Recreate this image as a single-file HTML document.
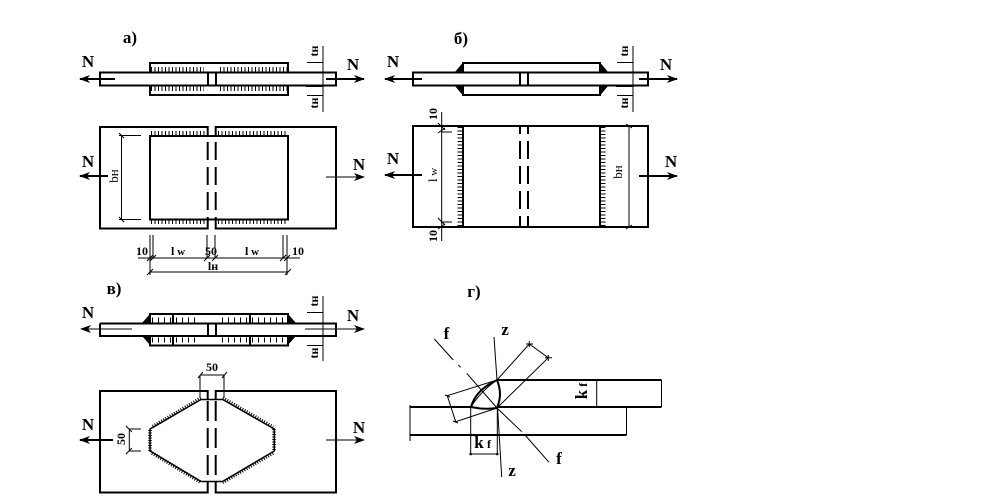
<!DOCTYPE html>
<html><head><meta charset="utf-8"><style>
html,body{margin:0;padding:0;background:#fff;width:997px;height:501px;overflow:hidden}
svg{display:block}
text{font-family:"Liberation Serif",serif;fill:#000}
.n{font-size:17px;font-weight:bold;text-anchor:middle}
.t{font-size:12px;text-anchor:middle;font-weight:bold}
.r{font-size:13px;text-anchor:middle}
.h{font-size:17px;font-weight:bold;text-anchor:middle}
.b{stroke:#000;stroke-width:2;fill:none}
.s{stroke:#000;stroke-width:1;fill:none}
.m{stroke:#000;stroke-width:2;fill:none}
.tk{stroke:#000;stroke-width:5;stroke-dasharray:1 2.5;fill:none}
.d{stroke:#000;stroke-width:2;stroke-dasharray:18 7;fill:none}
</style></head><body>
<svg width="997" height="501" viewBox="0 0 997 501" xmlns="http://www.w3.org/2000/svg">
<defs>
<marker id="a" markerWidth="12" markerHeight="8" refX="10" refY="4" orient="auto-start-reverse" markerUnits="userSpaceOnUse"><path d="M0 0L11 4L0 8L3 4Z" fill="#000"/></marker>
</defs>

<!-- a side -->
<text class="h" x="130" y="43">а)</text>
<text class="n" x="88" y="67">N</text><text class="n" x="353" y="70">N</text>
<path class="b" d="M150 72V63H288V72M150 86V95H288V86"/>
<rect class="b" x="100" y="72.500" width="236" height="13"/>
<path class="b" d="M208 72.500V85.500M216 72.500V85.500"/>
<path class="m" d="M80 79H115" marker-start="url(#a)"/>
<path class="m" d="M326 79H364" marker-end="url(#a)"/>
<path class="tk" d="M151 69.500H204M220 69.500H288M151 88.500H204M220 88.500H288"/>
<path class="s" d="M323 46V112M307 62.500H323M307 95.500H323M307 72.500H323"/>
<path class="b" d="M306 86H323"/>
<text class="t" transform="translate(318,51) rotate(-90)">tн</text>
<text class="t" transform="translate(318,103) rotate(-90)">tн</text>

<!-- a plan -->
<path class="b" d="M207.700 136V127H100V228.500H207.700V219.500M215.700 136V127H336V228.500H215.700V219.500M150 136H288V219.500H150Z"/>
<path class="b" d="M207.700 136V220M215.700 136V220" stroke-dasharray="18 7" style="stroke-dashoffset:-6"/>
<path class="tk" d="M151 133H206M218 133H288M151 222H206M218 222H288" style="stroke-width:4"/>
<path class="s" d="M121.500 135.500V219.500M119 135.500H141M119 219.500H141"/>
<path class="s" d="M119 133L124 138M119 217L124 222"/>
<text class="r" transform="translate(118,176) rotate(-90)">bн</text>
<text class="n" x="88" y="167">N</text><text class="n" x="359" y="170">N</text>
<path class="m" d="M80 176H108" marker-start="url(#a)"/>
<path class="s" d="M326 177H364" marker-end="url(#a)"/>
<path class="s" d="M150 235V275M153 235V258M207 235V258M215 235V258M283 235V258M287 235V275"/>
<path class="s" d="M138 258H300M150 272H288"/>
<path class="s" d="M147 261L153 255M150 261L156 255M204 261L210 255M212 261L218 255M280 261L286 255M284 261L290 255M147 275L153 269M285 275L291 269"/>
<text class="t" x="142" y="255">10</text>
<text class="t" x="178" y="255">l<tspan font-size="11"> w</tspan></text>
<text class="t" x="211" y="255">50</text>
<text class="t" x="252" y="255">l<tspan font-size="11"> w</tspan></text>
<text class="t" x="298" y="255">10</text>
<text class="t" x="213" y="270">lн</text>

<!-- b side -->
<text class="h" x="461" y="44">б)</text>
<text class="n" x="393" y="67">N</text><text class="n" x="666" y="70">N</text>
<path fill="#000" d="M455 72L462.500 63V72ZM455 86L462.500 95V86ZM600.500 63V72H608ZM600.500 86V95L608 86Z"/>
<path class="b" d="M463 72V63H600V72M463 86V95H600V86"/>
<rect class="b" x="413" y="72.500" width="235" height="13"/>
<path class="b" d="M520 72.500V85.500M528 72.500V85.500"/>
<path class="m" d="M385 79H422" marker-start="url(#a)"/>
<path class="m" d="M639 79H677" marker-end="url(#a)"/>
<path class="s" d="M633 46V112M617 62.500H633M617 95.500H633M617 72.500H633"/>
<path class="b" d="M616 86H633"/>
<text class="t" transform="translate(628,51) rotate(-90)">tн</text>
<text class="t" transform="translate(628,103) rotate(-90)">tн</text>

<!-- b plan -->
<rect class="b" x="413" y="126" width="235" height="101"/>
<path class="b" d="M463 126V227M600 126V227"/>
<path class="d" d="M520 126V227M528 126V227" style="stroke-dashoffset:10"/>
<path class="tk" d="M460 127V226M603 127V226"/>
<path class="s" d="M441.700 112V241M441 132H452M441 222H452M629 126V227"/>
<path class="s" d="M438 123L445 130M438 133L445 128M438 218L445 225M438 229L445 224M626 124L632 128M626 229L632 225"/>
<text class="t" transform="translate(437,114) rotate(-90)">10</text>
<text class="t" transform="translate(437,236) rotate(-90)">10</text>
<text class="r" transform="translate(437,175) rotate(-90)">l<tspan font-size="11"> w</tspan></text>
<text class="r" transform="translate(622,172) rotate(-90)">bн</text>
<text class="n" x="393" y="164">N</text><text class="n" x="671" y="167">N</text>
<path class="m" d="M385 175H422" marker-start="url(#a)"/>
<path class="m" d="M639 176H677" marker-end="url(#a)"/>

<!-- v side -->
<text class="h" x="114" y="294">в)</text>
<text class="n" x="88" y="318">N</text><text class="n" x="353" y="321">N</text>
<path fill="#000" d="M142 323L150 314V323ZM142 336L150 345V336ZM288 314V323H296ZM288 336V345L296 336Z"/>
<path class="b" d="M150 323V314H288V323M150 336V345.500H288V336"/>
<path class="b" d="M100 323.500H336V336H100V323.500M208 323.500V336M216 323.500V336M173 314V323M173 336V345.500M250 314V323M250 336V345.500"/>
<path class="s" d="M81 329H132" marker-start="url(#a)"/>
<path class="s" d="M305 329H364" marker-end="url(#a)"/>
<path class="tk" d="M152 320H172M176 320H200M222 320H248M252 320H287M152 340H172M176 340H200M222 340H248M252 340H287" style="stroke-width:5;stroke-dasharray:1 5"/>
<path class="s" d="M323 296V361M307 312.500H323M307 345.500H323M307 323.500H323M307 336H323"/>
<text class="t" transform="translate(318,301) rotate(-90)">tн</text>
<text class="t" transform="translate(318,353) rotate(-90)">tн</text>

<!-- v plan -->
<text class="t" x="212" y="371">50</text>
<path class="s" d="M200 375H224M200 375V398M224 375V398M198 378L203 372M222 378L227 372"/>
<path class="b" d="M207.700 399V391H100V492.500H207.700V482M215.700 399V391H336V492.500H215.700V482"/>
<path class="b" d="M150 429L201 399.500H222.700L274.300 429V451L222.700 481.500H201L150 451Z" style="stroke-width:1.500"/>
<path class="tk" d="M150 451V429M201 398L152 427M222.700 398L273 427M274 429V451M273 453L222.700 482.500M152 453L201 482.500" style="stroke-width:3.500;stroke-dasharray:1 1.500"/>
<path class="b" d="M207.700 401V481M215.700 401V481" stroke-dasharray="20 7"/>
<path class="s" d="M129.300 429V451M129.300 429H141M129.300 451H141M126 426L132 432M126 454L132 448"/>
<text class="t" transform="translate(125,439) rotate(-90)">50</text>
<text class="n" x="88" y="430">N</text><text class="n" x="359" y="433">N</text>
<path class="m" d="M80 440H113" marker-start="url(#a)"/>
<path class="s" d="M326 440H364" marker-end="url(#a)"/>

<!-- g -->
<text class="h" x="474" y="297">г)</text>
<path class="s" d="M661.500 380V407M626.500 407V435M410 405V441"/>
<path class="b" d="M497 380H661.500M410 407H661.500M410 435H626.500"/>
<path d="M497 380C482 387 474 396 471 407C480 409 490 409 497 408C501 398 501 390 497 380Z" stroke="#000" stroke-width="2" fill="#fff"/>
<path class="s" d="M471 407Q480 392 497 380"/>
<path class="s" d="M494 337L497 380M497.700 410L501.700 477M434.300 339L453.300 360M458.300 365L460.700 367.300M466.700 373.300L497 408L521.700 431.700M525 435L549 462.300"/>
<path class="s" d="M497 380L529.300 344L548.300 357.700L497 408M497 380L447.300 395.700L455.700 421.700L497 408"/>
<path class="s" d="M526 344H533M545 357.700H552M529.300 341V347M548.300 355V361M445 395L450 397M453 421L458 423"/>
<path class="s" d="M470.700 407V454M497.300 408V454M470 454H498M596.700 380V407"/>
<path class="b" d="M594 380H606"/>
<circle cx="470.700" cy="454" r="1.300"/><circle cx="497.300" cy="454" r="1.300"/>
<text class="n" x="446.500" y="339">f</text>
<text class="n" x="505" y="335">z</text>
<text class="n" x="559" y="464">f</text>
<text class="n" x="512" y="476">z</text>
<text class="n" x="479" y="448">k</text><text class="t" x="489" y="448">f</text>
<text class="n" transform="translate(587,391) rotate(-90)">k<tspan font-size="12"> f</tspan></text>
</svg>
</body></html>
